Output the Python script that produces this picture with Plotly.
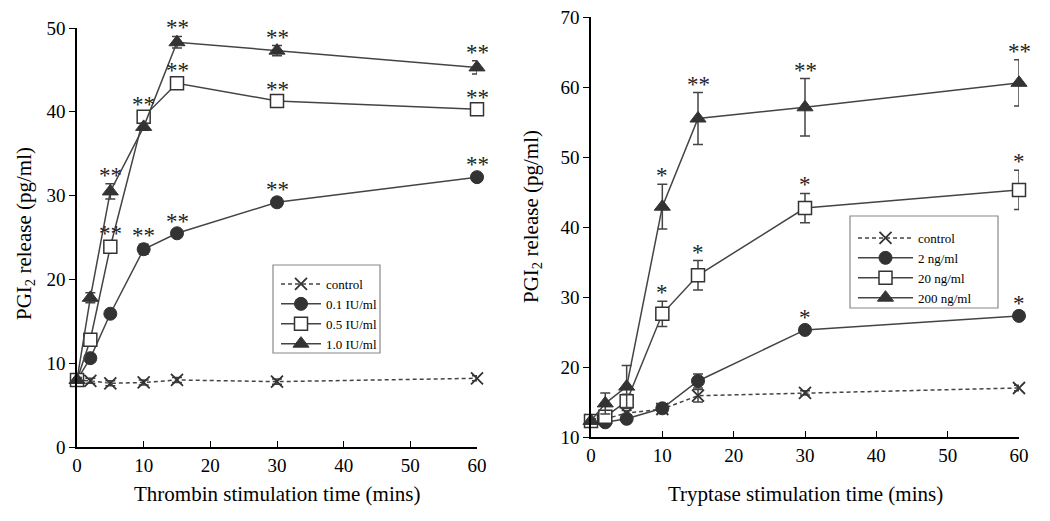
import plotly.graph_objects as go

times = [0, 2, 5, 10, 15, 30, 60]

# Thrombin panel (left)
thr_names = ["control", "0.1 IU/ml", "0.5 IU/ml", "1.0 IU/ml"]
thr_control = [8.0, 7.9, 7.6, 7.7, 8.0, 7.8, 8.2]
thr_control_err = [0.3, 0.3, 0.3, 0.3, 0.3, 0.3, 0.3]
thr_01 = [8.0, 10.6, 15.9, 23.6, 25.5, 29.2, 32.2]
thr_01_err = [0.3, 0.5, 0.4, 0.6, 0.4, 0.5, 0.5]
thr_05 = [8.0, 12.8, 23.9, 39.4, 43.4, 41.3, 40.3]
thr_05_err = [0.3, 0.4, 0.6, 0.5, 0.5, 0.4, 0.4]
thr_10 = [8.0, 17.8, 30.5, 38.2, 48.3, 47.3, 45.3]
thr_10_err = [0.3, 0.6, 0.9, 0.4, 0.7, 0.6, 0.8]
thr_01_sig = ["", "", "", "**", "**", "**", "**"]
thr_05_sig = ["", "", "**", "**", "**", "**", "**"]
thr_10_sig = ["", "", "**", "", "**", "**", "**"]

# Tryptase panel (right)
try_names = ["control", "2 ng/ml", "20 ng/ml", "200 ng/ml"]
try_control = [12.4, 12.6, 13.4, 14.0, 15.9, 16.3, 17.0]
try_control_err = [0.3, 0.3, 0.4, 0.3, 0.9, 0.3, 0.4]
try_2 = [12.3, 12.1, 12.6, 14.1, 18.0, 25.3, 27.3]
try_2_err = [0.3, 0.3, 0.5, 0.4, 1.0, 0.5, 0.5]
try_20 = [12.3, 12.9, 15.1, 27.6, 33.1, 42.7, 45.3]
try_20_err = [0.3, 0.5, 1.0, 1.8, 2.1, 2.1, 2.8]
try_200 = [12.3, 14.8, 17.2, 42.9, 55.5, 57.1, 60.6]
try_200_err = [0.3, 1.5, 3.0, 3.2, 3.7, 4.1, 3.3]
try_2_sig = ["", "", "", "", "", "*", "*"]
try_20_sig = ["", "", "", "*", "*", "*", "*"]
try_200_sig = ["", "", "", "*", "**", "**", "**"]

FONT = "Liberation Serif"
DARK = "#333333"
LINE = "#444444"
W, H = 1050, 521

fig = go.Figure()

styles = [
    dict(symbol="x-thin-open", size=12, dash="4px,3px"),
    dict(symbol="circle", size=13, dash="solid"),
    dict(symbol="square-open", size=13, dash="solid"),
    dict(symbol="triangle-up", size=14, dash="solid"),
]


def add_panel(series, errs, names, xa, ya, legend):
    for i, (vals, err, name) in enumerate(zip(series, errs, names)):
        st = styles[i]
        if st["symbol"] == "square-open":
            marker = dict(symbol="square", size=st["size"], color="white",
                          line=dict(color=DARK, width=1.5))
        elif st["symbol"] == "x-thin-open":
            marker = dict(symbol="x-thin-open", size=st["size"], color=DARK,
                          line=dict(color=DARK, width=1.8))
        else:
            marker = dict(symbol=st["symbol"], size=st["size"], color=DARK,
                          line=dict(color=DARK, width=1))
        fig.add_trace(go.Scatter(
            x=times, y=vals, name=name, mode="lines+markers",
            xaxis=xa, yaxis=ya, legend=legend,
            line=dict(color=LINE, width=1.5, dash=st["dash"]),
            marker=marker, cliponaxis=False,
            error_y=dict(type="data", array=err, visible=True, color=LINE,
                         thickness=1.5, width=5),
        ))


add_panel([thr_control, thr_01, thr_05, thr_10],
          [thr_control_err, thr_01_err, thr_05_err, thr_10_err],
          thr_names, "x", "y", "legend")
add_panel([try_control, try_2, try_20, try_200],
          [try_control_err, try_2_err, try_20_err, try_200_err],
          try_names, "x2", "y2", "legend2")

annotations = []


def add_sig(vals, errs, sigs, xref, yref):
    for t, v, e, s in zip(times, vals, errs, sigs):
        if s:
            annotations.append(dict(
                x=t, y=v + e, xref=xref, yref=yref, text=s, showarrow=False,
                yanchor="bottom", yshift=-6,
                font=dict(family=FONT, size=23, color="#222222")))


add_sig(thr_01, thr_01_err, thr_01_sig, "x", "y")
add_sig(thr_05, thr_05_err, thr_05_sig, "x", "y")
add_sig(thr_10, thr_10_err, thr_10_sig, "x", "y")
add_sig(try_2, try_2_err, try_2_sig, "x2", "y2")
add_sig(try_20, try_20_err, try_20_sig, "x2", "y2")
add_sig(try_200, try_200_err, try_200_sig, "x2", "y2")

# axis titles as annotations
annotations += [
    dict(text="Thrombin stimulation time (mins)", x=277 / W, y=1 - 494 / H,
         xref="paper", yref="paper", showarrow=False, xanchor="center", yanchor="middle",
         font=dict(family=FONT, size=21, color="black")),
    dict(text="Tryptase stimulation time (mins)", x=805 / W, y=1 - 494 / H,
         xref="paper", yref="paper", showarrow=False, xanchor="center", yanchor="middle",
         font=dict(family=FONT, size=21, color="black")),
    dict(text="PGI<sub>2</sub> release (pg/ml)", x=25 / W, y=1 - 234 / H,
         xref="paper", yref="paper", showarrow=False, xanchor="center", yanchor="middle",
         textangle=-90, font=dict(family=FONT, size=21, color="black")),
    dict(text="PGI<sub>2</sub> release (pg/ml)", x=532 / W, y=1 - 217 / H,
         xref="paper", yref="paper", showarrow=False, xanchor="center", yanchor="middle",
         textangle=-90, font=dict(family=FONT, size=21, color="black")),
]

# legend frames
shapes = [
    dict(type="rect", xref="paper", yref="paper", x0=273 / W, x1=380 / W,
         y0=1 - 353 / H, y1=1 - 265 / H, line=dict(color="#888888", width=1.2),
         fillcolor="white", layer="below"),
    dict(type="rect", xref="paper", yref="paper", x0=850 / W, x1=998 / W,
         y0=1 - 308 / H, y1=1 - 216 / H, line=dict(color="#888888", width=1.2),
         fillcolor="white", layer="below"),
]

axis_common = dict(showgrid=False, zeroline=False, showline=True, linecolor="black",
                   linewidth=1.5, tickfont=dict(family=FONT, size=19, color="black"),
                   tickcolor="black", ticklen=6, tickwidth=1.3, automargin=False)

legend_common = dict(bgcolor="rgba(0,0,0,0)", borderwidth=0,
                     font=dict(family=FONT, size=13, color="black"),
                     xanchor="left", yanchor="top", tracegroupgap=0)

fig.update_layout(
    width=W, height=H,
    margin=dict(l=0, r=0, t=0, b=0, autoexpand=False),
    paper_bgcolor="white", plot_bgcolor="white",
    showlegend=True,
    xaxis=dict(domain=[77 / W, 477 / W], range=[0, 60], tickvals=[0, 10, 20, 30, 40, 50, 60],
               ticks="inside", anchor="y", **axis_common),
    yaxis=dict(domain=[1 - 447 / H, 1 - 28 / H], range=[0, 50], tickvals=[0, 10, 20, 30, 40, 50],
               ticks="outside", anchor="x", **axis_common),
    xaxis2=dict(domain=[591 / W, 1019 / W], range=[0, 60], tickvals=[0, 10, 20, 30, 40, 50, 60],
                ticks="inside", anchor="y2", **axis_common),
    yaxis2=dict(domain=[1 - 437 / H, 1 - 17 / H], range=[10, 70],
                tickvals=[10, 20, 30, 40, 50, 60, 70],
                ticks="outside", anchor="x2", **axis_common),
    legend=dict(x=276 / W, y=1 - 269 / H, itemwidth=40, **legend_common),
    legend2=dict(x=853 / W, y=1 - 223 / H, itemwidth=55, **legend_common),
    annotations=annotations,
    shapes=shapes,
)

fig.write_html("out.html", config={"displayModeBar": False},
               post_script="document.body.style.margin='0';document.body.style.overflow='hidden';")
